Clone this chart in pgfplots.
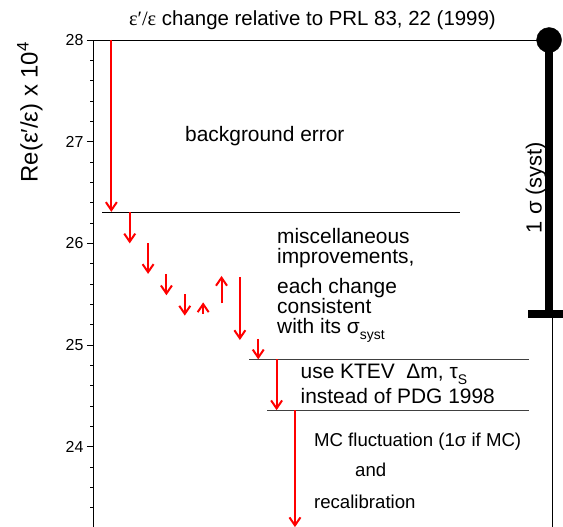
\documentclass[border=0pt]{standalone}
\usepackage{fontspec}
\setmainfont{Liberation Sans}
\newfontfamily\serifgr{Liberation Serif}
\usepackage{pgfplots}
\pgfplotsset{compat=1.18}
\usetikzlibrary{arrows.meta}
\newcommand\fs[1]{\fontsize{#1}{#1}\selectfont}
\begin{document}
\begin{tikzpicture}[txt/.style={anchor=base west, inner sep=0pt, font=\fs{21}}]
\path[use as bounding box] (0,0) rectangle (563bp,527bp);
\clip (0,0) rectangle (563bp,527bp);
\begin{axis}[
  at={(93bp,487bp)}, anchor=north west,
  scale only axis, width=459bp, height=508.5bp,
  xmin=0, xmax=25, ymin=23, ymax=28,
  xtick=\empty,
  ytick={24,25,26,27,28},
  minor ytick={23.2,23.4,23.6,23.8,24.2,24.4,24.6,24.8,25.2,25.4,25.6,25.8,26.2,26.4,26.6,26.8,27.2,27.4,27.6,27.8},
  ytick pos=left, tick align=outside,
  major tick length=6bp, minor tick length=3bp,
  axis line style={line width=0.8bp},
  every tick/.style={black, line width=0.8bp},
  yticklabel style={font=\fs{16}},
  /pgf/number format/assume math mode=true,
  clip=false,
]
% systematic error bar, 1 sigma
\addplot[black, line width=8bp] coordinates {(24.84,28) (24.84,25.31)};
\addplot[black, line width=8bp] coordinates {(23.71,25.31) (26.0,25.31)};
\addplot[only marks, mark=*, mark size=12.5bp, black] coordinates {(24.84,28)};

% level lines
\addplot[black, line width=0.8bp] coordinates {(0.5,26.306) (20,26.306)};
\addplot[black!75, line width=0.8bp] coordinates {(8.5,24.86) (23.75,24.86)};
\addplot[black!75, line width=0.8bp] coordinates {(9.5,24.36) (23.75,24.36)};

% changes: x, start, shift
\addplot[red, line width=2bp, -{Straight Barb[length=8bp,width=11bp]},
  quiver={u=0, v=\thisrow{dy}}] table {
x  y     dy
1  28.00 -1.69
2  26.31 -0.31
3  26.00 -0.30
4  25.70 -0.21
5  25.50 -0.21
6  25.31  0.11
7  25.41  0.27
8  25.67 -0.62
9  25.06 -0.20
10 24.86 -0.50
11 24.36 -1.15
};

\node[anchor=base, font=\fs{20.5}] at (axis cs:11.95,28.138)
  {{\serifgr ε′/ε} change relative to PRL 83, 22 (1999)};
\node[anchor=base, rotate=90, font=\fs{24}] at (axis cs:-3.02,27.29)
  {Re(ε′/ε) x 10\textsuperscript{4}};
\node[anchor=base, rotate=90, font=\fs{22}] at (axis cs:24.44,26.55) {1 σ (syst)};

\node[txt] at (axis cs:5.01,27.0) {background error};
\node[txt] at (axis cs:10.02,26.0) {miscellaneous};
\node[txt] at (axis cs:10.02,25.807) {improvements,};
\node[txt] at (axis cs:10.02,25.509) {each change};
\node[txt] at (axis cs:10.02,25.313) {consistent};
\node[txt] at (axis cs:10.02,25.116) {with its σ\raisebox{-6bp}{\fs{14}syst}};
\node[txt] at (axis cs:11.30,24.673) {use KTEV \ Δm, τ\raisebox{-6bp}{\fs{14}S}};
\node[txt] at (axis cs:11.30,24.428) {instead of PDG 1998};
\node[txt, font=\fs{18.7}] at (axis cs:12.03,24.0) {MC fluctuation (1σ if MC)};
\node[txt, font=\fs{18.7}] at (axis cs:14.27,23.706) {and};
\node[txt, font=\fs{18.7}] at (axis cs:12.03,23.39) {recalibration};
\end{axis}
\end{tikzpicture}
\end{document}
